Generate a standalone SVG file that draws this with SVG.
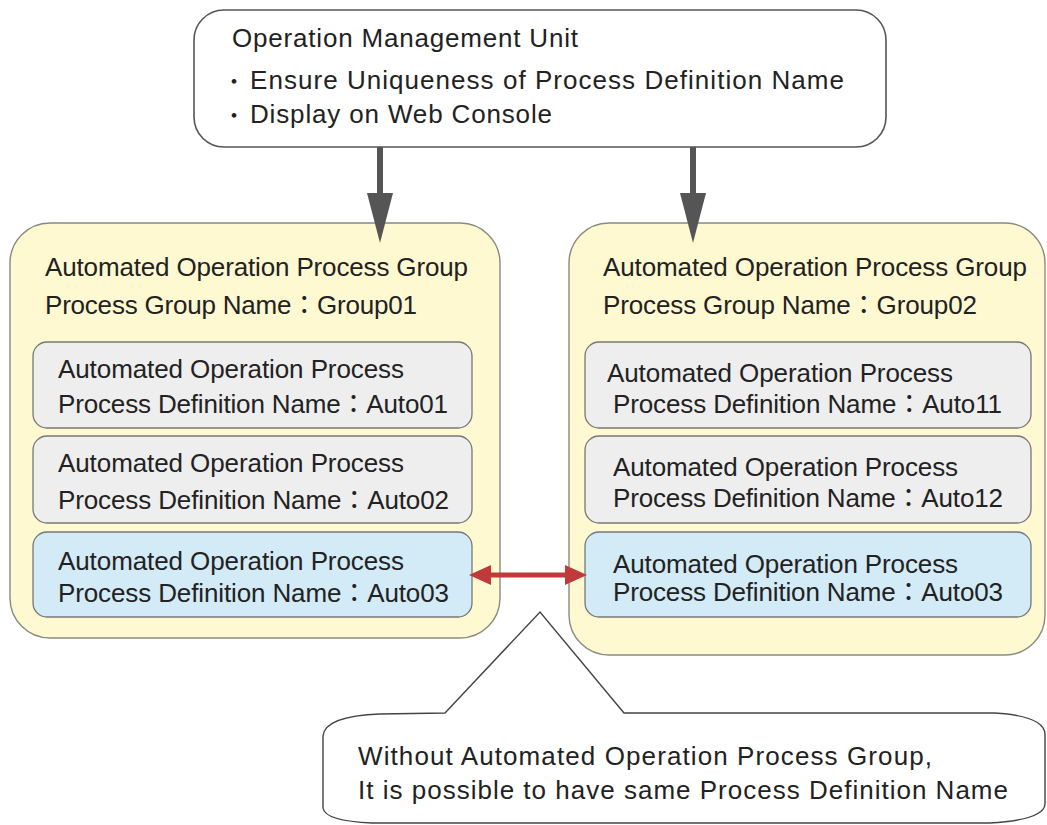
<svg xmlns="http://www.w3.org/2000/svg" width="1047" height="825" viewBox="0 0 1047 825">
<style>
text{font-family:"Liberation Sans",Arial,"Noto Sans CJK JP",sans-serif;font-size:26px;fill:#222}
.bul{font-size:22px}
.unit{fill:#fff;stroke:#555;stroke-width:1.6}
.grp{fill:#fff9d2;stroke:#8a8a80;stroke-width:1.4}
.proc{fill:#eeeeee;stroke:#777;stroke-width:1.3}
.same{fill:#d3eaf7;stroke:#777;stroke-width:1.3}
.down{stroke:#555;stroke-width:6;fill:none}
.dup{stroke:#c0393b;stroke-width:5;fill:none}
.callout{fill:#fff;stroke:#444;stroke-width:1.4}
</style>
<defs>
<marker id="grayHead" viewBox="0 0 50 26" refX="0" refY="13" markerWidth="50" markerHeight="26" markerUnits="userSpaceOnUse" orient="auto"><path d="M0,0 L50,13 L0,26 Z" fill="#555"/></marker>
<marker id="redHead" viewBox="0 0 22 20" refX="0" refY="10" markerWidth="22" markerHeight="20" markerUnits="userSpaceOnUse" orient="auto-start-reverse"><path d="M0,0 L22,10 L0,20 Z" fill="#c0393b"/></marker>
</defs>

<g id="unit">
<rect class="unit" x="194" y="10" width="692" height="137" rx="30"/>
<text x="232" y="47" textLength="346">Operation Management Unit</text>
<text class="bul" x="223" y="89">・</text>
<text x="250" y="89" textLength="594">Ensure Uniqueness of Process Definition Name</text>
<text class="bul" x="223" y="123">・</text>
<text x="250" y="123" textLength="302">Display on Web Console</text>
</g>

<g id="group01">
<rect class="grp" x="10" y="223" width="490" height="415" rx="40"/>
<text x="45" y="276" textLength="423">Automated Operation Process Group</text>
<text x="45" y="314" textLength="372">Process Group Name：Group01</text>
</g>
<g id="auto01">
<rect class="proc" x="33" y="342" width="439" height="86" rx="14"/>
<text x="58" y="378" textLength="346">Automated Operation Process</text>
<text x="58" y="413" textLength="390">Process Definition Name：Auto01</text>
</g>
<g id="auto02">
<rect class="proc" x="33" y="436" width="439" height="87" rx="14"/>
<text x="58" y="472" textLength="346">Automated Operation Process</text>
<text x="58" y="509" textLength="391">Process Definition Name：Auto02</text>
</g>
<g id="auto03a">
<rect class="same" x="33" y="532" width="439" height="85" rx="14"/>
<text x="58" y="570" textLength="346">Automated Operation Process</text>
<text x="58" y="602" textLength="391">Process Definition Name：Auto03</text>
</g>

<g id="group02">
<rect class="grp" x="569" y="223" width="476" height="432" rx="40"/>
<text x="603" y="276" textLength="424">Automated Operation Process Group</text>
<text x="603" y="314" textLength="374">Process Group Name：Group02</text>
</g>
<g id="auto11">
<rect class="proc" x="585" y="342" width="446" height="86" rx="14"/>
<text x="607" y="382" textLength="346">Automated Operation Process</text>
<text x="613" y="413" textLength="389">Process Definition Name：Auto11</text>
</g>
<g id="auto12">
<rect class="proc" x="585" y="436" width="446" height="87" rx="14"/>
<text x="613" y="476" textLength="345">Automated Operation Process</text>
<text x="613" y="507" textLength="390">Process Definition Name：Auto12</text>
</g>
<g id="auto03b">
<rect class="same" x="585" y="532" width="446" height="85" rx="14"/>
<text x="613" y="573" textLength="345">Automated Operation Process</text>
<text x="613" y="601" textLength="390">Process Definition Name：Auto03</text>
</g>

<g id="note">
<path class="callout" d="M445,713 L540,612 L624,713 L995,713 Q1044,716 1045,734 L1045,804 Q1044,820 990,823 L372,823 Q325,821 323,808 L323,736 Q325,716 380,714 Z"/>
<text x="358" y="765" textLength="574">Without Automated Operation Process Group,</text>
<text x="358" y="799" textLength="650">It is possible to have same Process Definition Name</text>
</g>

<g id="connectors">
<line class="down" x1="380" y1="147" x2="380" y2="193" marker-end="url(#grayHead)"/>
<line class="down" x1="693" y1="147" x2="693" y2="193" marker-end="url(#grayHead)"/>
<line class="dup" x1="491" y1="575" x2="565" y2="575" marker-start="url(#redHead)" marker-end="url(#redHead)"/>
</g>
</svg>
